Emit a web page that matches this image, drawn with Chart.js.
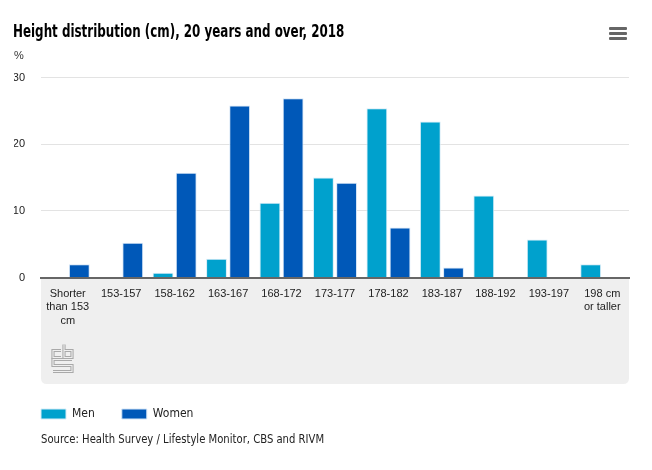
<!DOCTYPE html>
<html>
<head>
<meta charset="utf-8">
<script src="https://cdn.jsdelivr.net/npm/chart.js@4/dist/chart.umd.min.js"></script>
<style>
  html, body { margin: 0; padding: 0; background: #fff; }
  #wrap { position: relative; width: 652px; height: 470px; overflow: hidden; }
  #chart { position: absolute; left: 0; top: 0; }
  .title { position: absolute; left: 13px; top: 19px; font-family: "DejaVu Sans Condensed", "Liberation Sans", sans-serif; font-weight: bold; font-size: 18px; line-height: 24px; color: #000; white-space: nowrap; transform: scaleX(0.735); transform-origin: 0 50%; }
  .unit { position: absolute; left: 14px; top: 48px; font-family: "Liberation Sans", sans-serif; font-size: 11px; line-height: 14px; color: #333; }
  .source { position: absolute; left: 41px; top: 431px; font-family: "DejaVu Sans Condensed", "Liberation Sans", sans-serif; font-size: 13px; line-height: 16px; color: #222; white-space: nowrap; transform: scaleX(0.86); transform-origin: 0 50%; }
  .menu { position: absolute; left: 609px; top: 27px; width: 18px; }
  .menu div { height: 3px; background: #666; margin-bottom: 2px; border-radius: 1px; }
</style>
</head>
<body>
<div id="wrap">
  <canvas id="chart" width="652" height="470"></canvas>
  <div class="title">Height distribution (cm), 20 years and over, 2018</div>
  <div class="unit">%</div>
  <div class="menu"><div></div><div></div><div></div></div>
  <div class="source">Source: Health Survey / Lifestyle Monitor, CBS and RIVM</div>
</div>
<script>
const categories = [
  ["Shorter", "than 153", "cm"], "153-157", "158-162", "163-167", "168-172",
  "173-177", "178-182", "183-187", "188-192", "193-197", ["198 cm", "or taller"]
];
const men   = [null, null, 0.7, 2.8, 11.2, 15.0, 25.4, 23.4, 12.3, 5.7, 2.0];
const women = [2.0, 5.2, 15.7, 25.8, 26.9, 14.2, 7.5, 1.5, null, null, null];
const seriesNames = ["Men", "Women"];
const seriesColors = ["#00a1cd", "#0058b8"];

const panelPlugin = {
  id: 'panel',
  beforeDraw(chart) {
    const {ctx, chartArea} = chart;
    const x0 = chartArea.left, x1 = chartArea.right;
    const y0 = chartArea.bottom, y1 = chartArea.bottom + 106.5, r = 6;
    ctx.save();
    ctx.fillStyle = '#efefef';
    ctx.beginPath();
    ctx.moveTo(x0, y0);
    ctx.lineTo(x1, y0);
    ctx.lineTo(x1, y1 - r);
    ctx.quadraticCurveTo(x1, y1, x1 - r, y1);
    ctx.lineTo(x0 + r, y1);
    ctx.quadraticCurveTo(x0, y1, x0, y1 - r);
    ctx.closePath();
    ctx.fill();
    // small CBS logo
    const lx = x0 + 12, ly = y0 + 67;
    const paths = [
      [[lx + 8, ly + 6], [lx, ly + 6], [lx, ly + 13], [lx + 8, ly + 13]],
      [[lx + 11, ly], [lx + 11, ly + 13], [lx + 19, ly + 13], [lx + 19, ly + 6], [lx + 11, ly + 6]],
      [[lx + 19, ly + 15], [lx, ly + 15], [lx, ly + 21], [lx + 19, ly + 21], [lx + 19, ly + 27], [lx, ly + 27]]
    ];
    ctx.lineJoin = 'miter';
    [[3.2, '#a9a9a9'], [1.1, '#efefef']].forEach(([w, c]) => {
      ctx.lineWidth = w; ctx.strokeStyle = c;
      paths.forEach(p => {
        ctx.beginPath();
        p.forEach(([px, py], i) => i ? ctx.lineTo(px, py) : ctx.moveTo(px, py));
        ctx.stroke();
      });
    });
    ctx.restore();
  }
};

new Chart(document.getElementById('chart'), {
  type: 'bar',
  data: {
    labels: categories,
    datasets: [
      { label: seriesNames[0], data: men, backgroundColor: seriesColors[0], borderColor: '#d6ecf7', borderWidth: 1 },
      { label: seriesNames[1], data: women, backgroundColor: seriesColors[1], borderColor: '#d6e6f7', borderWidth: 1 }
    ]
  },
  options: {
    responsive: false,
    animation: false,
    devicePixelRatio: 1,
    layout: { padding: { left: 14, right: 23, top: 77.5, bottom: 40 } },
    datasets: { bar: { categoryPercentage: 0.867, barPercentage: 0.9 } },
    scales: {
      x: {
        grid: { display: false, drawTicks: false },
        border: { display: true, color: '#666', width: 2, z: 1 },
        ticks: {
          color: '#222', padding: 9, maxRotation: 0, autoSkip: false,
          font: { family: '"Liberation Sans", sans-serif', size: 11, lineHeight: 1.27 }
        },
        afterFit(scale) { scale.height = 103.5; }
      },
      y: {
        min: 0, max: 30,
        grid: { color: '#e3e3e3', lineWidth: 1, drawTicks: false },
        border: { display: false },
        ticks: {
          stepSize: 10, color: '#222', padding: 16,
          font: { family: '"Liberation Sans", sans-serif', size: 11 }
        },
        afterFit(scale) { scale.width = 27; }
      }
    },
    plugins: {
      legend: {
        position: 'bottom', align: 'start',
        labels: {
          boxWidth: 25, boxHeight: 10, padding: 27, color: '#222',
          font: { family: '"DejaVu Sans Condensed", "Liberation Sans", sans-serif', size: 12 }
        }
      },
      title: { display: false },
      tooltip: { enabled: false }
    }
  },
  plugins: [panelPlugin]
});
</script>
</body>
</html>
